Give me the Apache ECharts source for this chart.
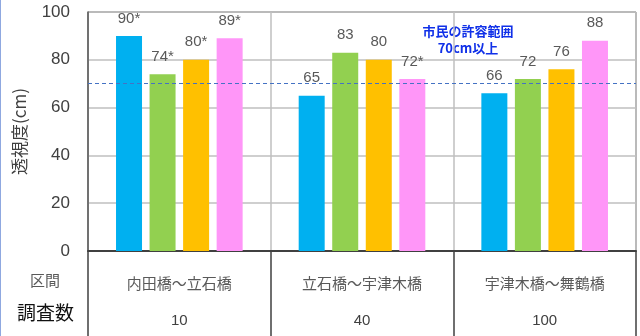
<!DOCTYPE html>
<html>
<head>
<meta charset="utf-8">
<script src="https://cdn.jsdelivr.net/npm/echarts@6/dist/echarts.min.js"></script>
<style>
  html, body { margin: 0; padding: 0; background: #fff; }
  #chart { width: 640px; height: 336px; }
</style>
</head>
<body>
<div id="chart"></div>
<script>
// 区間 and 調査数
var sections = ['内田橋～立石橋', '立石橋～宇津木橋', '宇津木橋～舞鶴橋'];
var counts = ['10', '40', '100'];

// 透視度 per bar colour
var blueData = [90, 65, 66];
var greenData = [74, 83, 72];
var orangeData = [80, 80, 76];
var pinkData = [89, 72, 88];

var blueLabels = ['90*', '65', '66'];
var greenLabels = ['74*', '83', '72'];
var orangeLabels = ['80*', '80', '76'];
var pinkLabels = ['89*', '72*', '88'];

var yTicks = [0, 20, 40, 60, 80, 100];
var limitValue = 70;

var dom = document.getElementById('chart');
var chart = echarts.init(dom, null, { width: 640, height: 336 });

function barSeries(data, labels, color) {
    return {
        type: 'bar',
        data: data,
        barWidth: 26,
        barGap: '29%',
        itemStyle: { color: color },
        label: {
            show: true,
            position: 'top',
            distance: 10,
            color: '#595959',
            fontSize: 15,
            fontFamily: 'Liberation Sans, sans-serif',
            formatter: function (p) { return labels[p.dataIndex]; }
        }
    };
}

var series = [
    barSeries(blueData, blueLabels, '#00B0F0'),
    barSeries(greenData, greenLabels, '#92D050'),
    barSeries(orangeData, orangeLabels, '#FFC000'),
    barSeries(pinkData, pinkLabels, '#FF96F8')
];
series[0].markLine = {
    silent: true,
    symbol: ['none', 'none'],
    label: { show: false },
    lineStyle: { color: '#4472C4', type: [4, 3], width: 1 },
    data: [{ yAxis: limitValue }]
};

var option = {
    animation: false,
    backgroundColor: '#fff',
    grid: {
        left: 88,
        right: 4,
        top: 12,
        bottom: 85,
        show: true,
        borderColor: '#595959',
        borderWidth: 1
    },
    xAxis: {
        type: 'category',
        data: sections,
        axisLine: { lineStyle: { color: '#404040', width: 2 } },
        axisTick: {
            show: true,
            interval: 0,
            length: 85,
            lineStyle: { color: '#404040', width: 1.5 }
        },
        splitLine: { show: true, interval: 0, lineStyle: { color: '#bfbfbf', width: 1.5 } },
        axisLabel: {
            interval: 0,
            margin: 12,
            formatter: function (v, i) { return '{a|' + v + '}\n{b|' + counts[i] + '}'; },
            rich: {
                a: { fontSize: 15, color: '#595959', lineHeight: 40, fontFamily: 'Noto Sans CJK JP' },
                b: { fontSize: 15, color: '#404040', lineHeight: 36, fontFamily: 'Liberation Sans, sans-serif' }
            }
        }
    },
    yAxis: {
        type: 'value',
        min: yTicks[0],
        max: yTicks[yTicks.length - 1],
        interval: 20,
        name: '透視度(cm)',
        nameLocation: 'middle',
        nameGap: 60,
        nameTextStyle: { fontSize: 17, color: '#404040', fontFamily: 'Noto Sans CJK JP' },
        axisLine: { show: true, lineStyle: { color: '#595959', width: 1.5 } },
        splitLine: { lineStyle: { color: '#bfbfbf', width: 1.5 } },
        axisLabel: {
            margin: 18,
            fontSize: 17,
            color: '#404040',
            fontFamily: 'Liberation Sans, sans-serif'
        }
    },
    graphic: [
        {
            type: 'text',
            left: 30, top: 273,
            style: { text: '区間', fontSize: 15, fill: '#595959', fontFamily: 'Noto Sans CJK JP' }
        },
        {
            type: 'text',
            left: 17, top: 303,
            style: { text: '調査数', fontSize: 19, fill: '#111', fontFamily: 'Noto Sans CJK JP' }
        },
        {
            type: 'text',
            x: 468, y: 23,
            style: {
                text: '市民の許容範囲\n70cm以上',
                align: 'center',
                fontSize: 13,
                lineHeight: 17,
                fontWeight: 'bold',
                fill: '#1030E8',
                fontFamily: 'Noto Sans CJK JP'
            }
        },
        {
            type: 'line',
            shape: { x1: 0.5, y1: 0, x2: 0.5, y2: 336 },
            style: { stroke: '#8fa8e0', lineWidth: 1 }
        }
    ],
    series: series
};

chart.setOption(option);
</script>
</body>
</html>
